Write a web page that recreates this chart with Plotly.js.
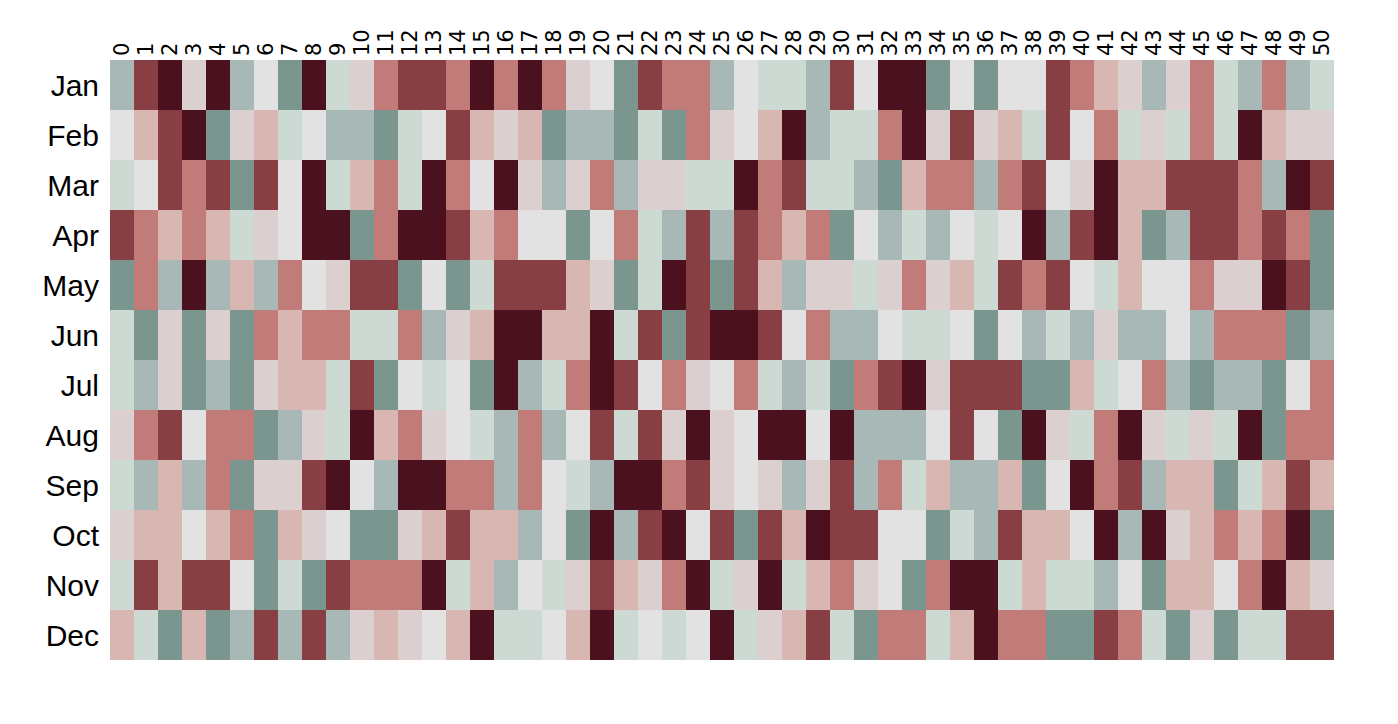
<!DOCTYPE html>
<html>
<head>
<meta charset="utf-8">
<script src="https://cdn.plot.ly/plotly-3.0.1.min.js"></script>
<style>html,body{margin:0;padding:0;background:#fff;}#chart{width:1398px;height:724px;}</style>
</head>
<body>
<div id="chart"></div>
<script>
// Month labels (rows) and column labels
const months = ["Jan","Feb","Mar","Apr","May","Jun","Jul","Aug","Sep","Oct","Nov","Dec"];
const columns = Array.from({length: 51}, (_, i) => String(i));

// Palette levels 0..8 (dark maroon -> light gray -> dark green-gray)
const palette = ["#4c111e","#873f43","#c17b78","#d8b7b2","#dccfd0","#e2e2e2","#cdd9d3","#a8b8b6","#7a968e"];

// Cell values per month (level index 0..8), columns 0..50
const jan = [7,1,0,4,0,7,5,8,0,6,4,2,1,1,2,0,2,0,2,4,5,8,1,2,2,7,5,6,6,7,1,5,0,0,8,5,8,5,5,1,2,3,4,7,4,2,6,7,2,7,6];
const feb = [5,3,1,0,8,4,3,6,5,7,7,8,6,5,1,3,4,3,8,7,7,8,6,8,2,4,5,3,0,7,6,6,2,0,4,1,4,3,6,1,5,2,6,4,6,2,6,0,3,4,4];
const mar = [6,5,1,2,1,8,1,5,0,6,3,2,6,0,2,5,0,4,7,4,2,7,4,4,6,6,0,2,1,6,6,7,8,3,2,2,7,2,1,5,4,0,3,3,1,1,1,2,7,0,1];
const apr = [1,2,3,2,3,6,4,5,0,0,8,2,0,0,1,3,2,5,5,8,5,2,6,7,1,7,1,2,3,2,8,5,7,6,7,5,6,5,0,7,1,0,3,8,7,1,1,2,1,2,8];
const may = [8,2,7,0,7,3,7,2,5,4,1,1,8,5,8,6,1,1,1,3,4,8,6,0,1,8,1,3,7,4,4,6,4,2,4,3,6,1,2,1,5,6,3,5,5,2,4,4,0,1,8];
const jun = [6,8,4,8,4,8,2,3,2,2,6,6,2,7,4,3,0,0,3,3,0,6,1,8,1,0,0,1,5,2,7,7,5,6,6,5,8,5,7,6,7,4,7,7,5,7,2,2,2,8,7];
const jul = [6,7,4,8,7,8,4,3,3,6,1,8,5,6,5,8,0,7,6,2,0,1,5,2,4,5,2,6,7,6,8,2,1,0,4,1,1,1,8,8,3,6,5,2,7,8,7,7,8,5,2];
const aug = [4,2,1,5,2,2,8,7,4,6,0,3,2,4,5,6,7,2,7,5,1,6,1,4,0,4,5,0,0,5,0,7,7,7,5,1,5,8,0,4,6,2,0,4,6,4,6,0,8,2,2];
const sep = [6,7,3,7,2,8,4,4,1,0,5,7,0,0,2,2,7,2,5,6,7,0,0,2,1,4,5,4,7,4,1,7,2,6,3,7,7,3,8,5,0,2,1,7,3,3,8,6,3,1,3];
const oct = [4,3,3,5,3,2,8,3,4,5,8,8,4,3,1,3,3,7,5,8,0,7,1,0,5,1,8,1,3,0,1,1,5,5,8,6,7,1,3,3,5,0,7,0,4,3,2,3,2,0,8];
const nov = [6,1,3,1,1,5,8,6,8,1,2,2,2,0,6,3,7,5,6,4,1,3,4,2,0,6,4,0,6,3,2,4,5,8,2,0,0,6,3,6,6,7,5,8,3,3,5,2,0,3,4];
const dec = [3,6,8,3,8,7,1,7,1,7,4,3,4,5,3,0,6,6,5,3,0,6,5,6,5,0,6,4,3,1,6,8,2,2,6,3,0,2,2,8,8,1,2,6,8,4,8,6,6,1,1];

const z = [jan,feb,mar,apr,may,jun,jul,aug,sep,oct,nov,dec];
const colorscale = palette.map((c, i) => [i / (palette.length - 1), c]);

const trace = {
  type: "heatmap",
  z: z,
  x: columns,
  y: months,
  zmin: 0,
  zmax: palette.length - 1,
  colorscale: colorscale,
  showscale: false,
  xgap: 0,
  ygap: 0,
  hoverongaps: false
};

const layout = {
  width: 1398,
  height: 724,
  margin: {l: 110, r: 64, t: 60, b: 64, pad: 0},
  paper_bgcolor: "#ffffff",
  plot_bgcolor: "#ffffff",
  font: {family: "Liberation Sans, Arial, sans-serif", color: "#000"},
  xaxis: {
    side: "top",
    type: "category",
    tickmode: "array",
    tickvals: columns,
    ticktext: columns,
    tickangle: -90,
    tickfont: {family: "DejaVu Sans, sans-serif", size: 21, color: "#000"},
    ticklabelstandoff: 3,
    showgrid: false,
    zeroline: false,
    showline: false,
    ticks: "",
    ticklen: 0
  },
  yaxis: {
    type: "category",
    autorange: "reversed",
    tickfont: {size: 30, color: "#000"},
    ticklabelstandoff: 10,
    showgrid: false,
    zeroline: false,
    showline: false,
    ticks: "",
    ticklen: 0
  }
};

Plotly.newPlot("chart", [trace], layout, {displayModeBar: false, staticPlot: true});
</script>
</body>
</html>
